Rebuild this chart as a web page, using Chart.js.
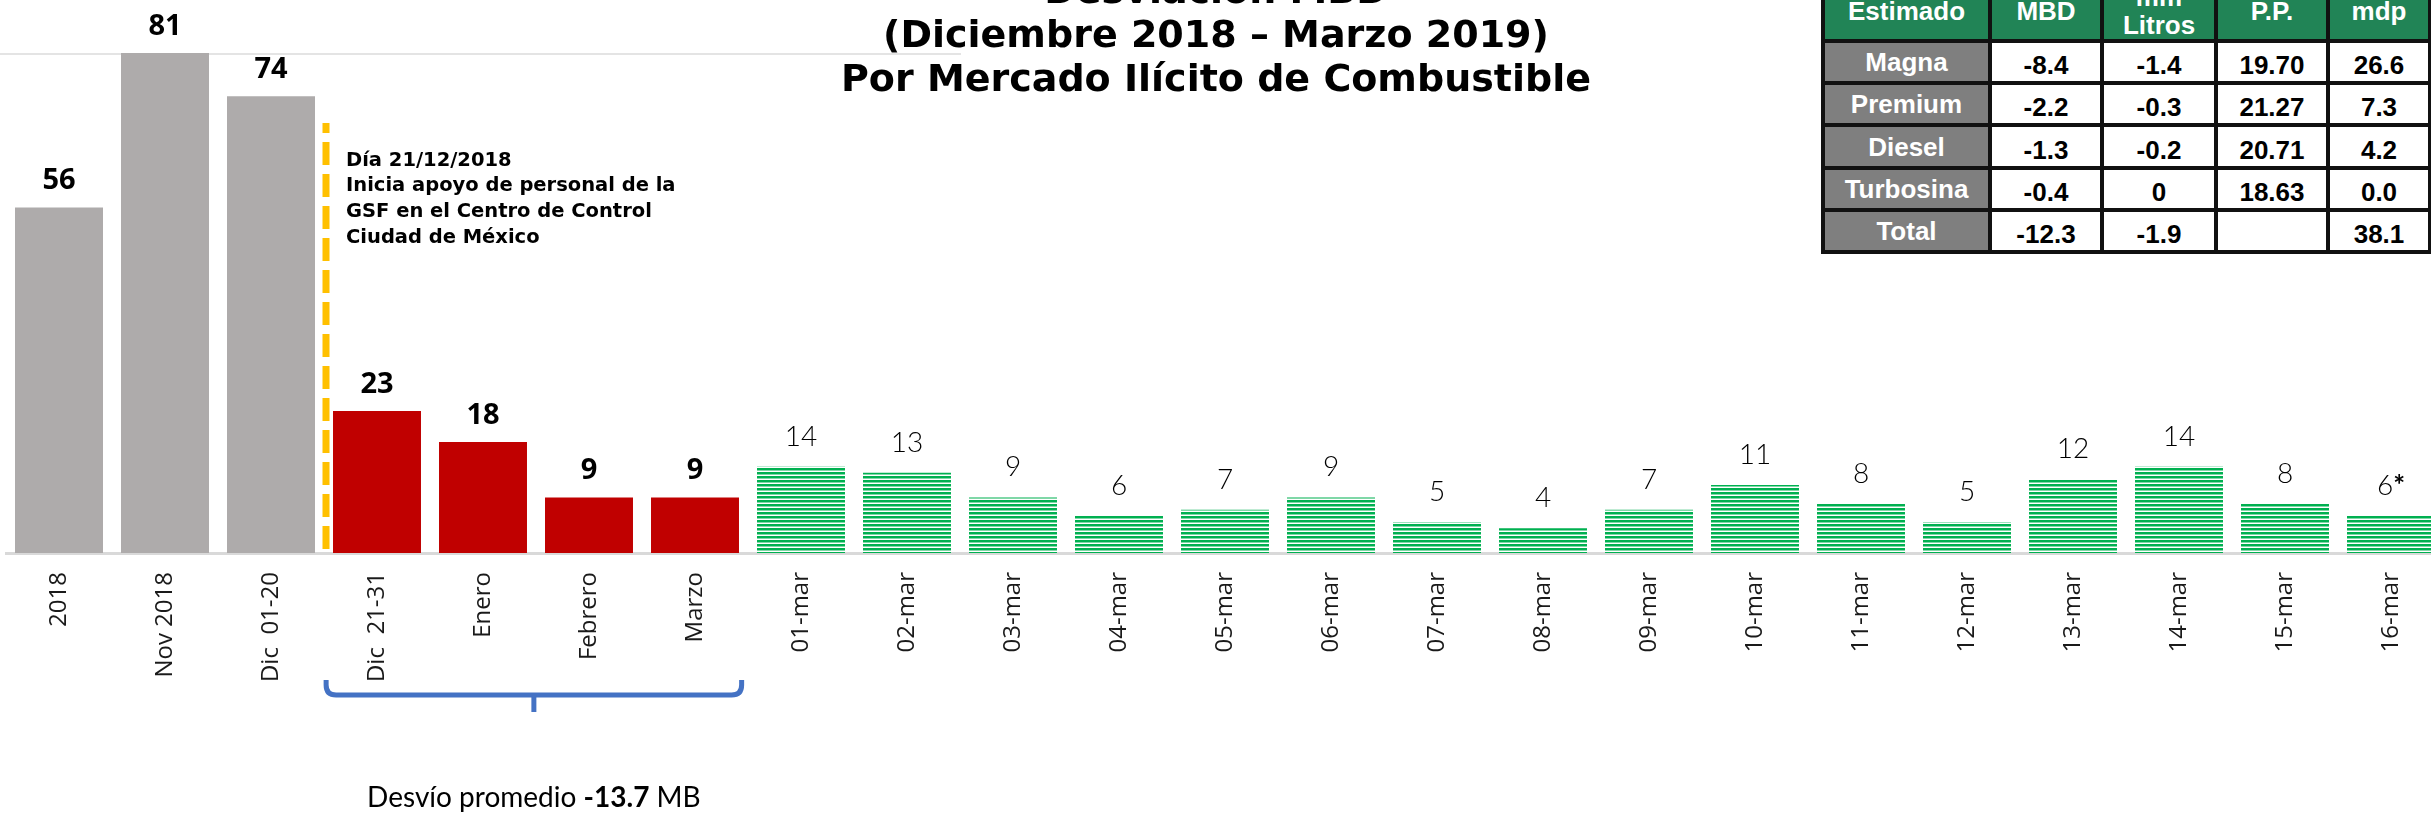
<!DOCTYPE html>
<html lang="es">
<head>
<meta charset="utf-8">
<title>Desviación MBD</title>
<script src="https://cdn.jsdelivr.net/npm/chart.js@4.4.1/dist/chart.umd.min.js"></script>
<style>
    html, body { margin: 0; padding: 0; background: #fff; overflow: hidden; }
    #wrap { position: relative; width: 2431px; height: 813px; overflow: hidden; }
    #chartBox { position: absolute; left: 0; top: 0; width: 2460px; height: 813px; }
    #tabla {
        position: absolute; left: 1821px; top: -21px;
        display: grid; background: #111; padding: 4px; gap: 4px;
        grid-template-columns: 163px 108px 110px 108px 98px;
        grid-template-rows: 56px 38px 38px 39px 38px 38px;
        font-family: 'Liberation Sans', Arial, sans-serif; font-weight: bold; font-size: 26px;
    }
    #tabla div {
        display: flex; align-items: center; justify-content: center;
        text-align: center; line-height: 28px; white-space: pre-line;
    }
    #tabla .hdr { background: #218456; color: #fff; }
    #tabla .prod { background: #7f7f7f; color: #fff; }
    #tabla .val { background: #fff; color: #000; padding-top: 6px; box-sizing: border-box; }
</style>
</head>
<body>
<div id="wrap">
    <div id="chartBox"><canvas id="grafica"></canvas></div>
    <div id="tabla"></div>
</div>
<script>
// Periodos previos (gris), promedio mensual (rojo) y diario de marzo (verde)
const categoriasPrevias = ['2018', 'Nov 2018', 'Dic  01-20'];
const valoresPrevios = [56, 81, 74];
const categoriasMeses = ['Dic  21-31', 'Enero', 'Febrero', 'Marzo'];
const valoresMeses = [23, 18, 9, 9];
const categoriasDias = ['01-mar', '02-mar', '03-mar', '04-mar', '05-mar', '06-mar', '07-mar', '08-mar',
    '09-mar', '10-mar', '11-mar', '12-mar', '13-mar', '14-mar', '15-mar', '16-mar'];
const valoresDias = [14, 13, 9, 6, 7, 9, 5, 4, 7, 11, 8, 5, 12, 14, 8, 6];
const notasDias = ['', '', '', '', '', '', '', '', '', '', '', '', '', '', '', '*'];

// Tabla de estimados
const encabezados = ['Estimado', 'MBD', 'mm\nLitros', 'P.P.', 'mdp'];
const productos = ['Magna', 'Premium', 'Diesel', 'Turbosina', 'Total'];
const colMBD = ['-8.4', '-2.2', '-1.3', '-0.4', '-12.3'];
const colLitros = ['-1.4', '-0.3', '-0.2', '0', '-1.9'];
const colPP = ['19.70', '21.27', '20.71', '18.63', ''];
const colMdp = ['26.6', '7.3', '4.2', '0.0', '38.1'];

const titulo = ['Desviación MBD', '(Diciembre 2018 – Marzo 2019)', 'Por Mercado Ilícito de Combustible'];
const nota = ['Día 21/12/2018', 'Inicia apoyo de personal de la', 'GSF en el Centro de Control', 'Ciudad de México'];

const categorias = categoriasPrevias.concat(categoriasMeses, categoriasDias);
const valores = valoresPrevios.concat(valoresMeses, valoresDias);
const nPrev = categoriasPrevias.length;
const nMeses = categoriasMeses.length;

// build table
const tabla = document.getElementById('tabla');
function celda(texto, clase) {
    const d = document.createElement('div');
    d.className = clase;
    d.textContent = texto;
    tabla.appendChild(d);
}
encabezados.forEach(h => celda(h, 'hdr'));
productos.forEach((p, i) => {
    celda(p, 'prod');
    celda(colMBD[i], 'val');
    celda(colLitros[i], 'val');
    celda(colPP[i], 'val');
    celda(colMdp[i], 'val');
});

const canvas = document.getElementById('grafica');
const ctxG = canvas.getContext('2d');

// horizontal green stripes
function rayado() {
    const c = document.createElement('canvas');
    c.width = 4; c.height = 4;
    const g = c.getContext('2d');
    g.fillStyle = '#ffffff';
    g.fillRect(0, 0, 4, 4);
    g.fillStyle = '#00b050';
    g.fillRect(0, 0, 4, 2.5);
    return ctxG.createPattern(c, 'repeat');
}
const patronVerde = rayado();

function colorBarra(i) {
    if (i < nPrev) return '#aeabab';
    if (i < nPrev + nMeses) return '#c00000';
    return patronVerde;
}

const etiquetas = {
    id: 'etiquetas',
    afterDatasetsDraw(chart) {
        const ctx = chart.ctx;
        const meta = chart.getDatasetMeta(0);
        ctx.save();
        ctx.fillStyle = '#000';
        ctx.textBaseline = 'alphabetic';
        meta.data.forEach((bar, i) => {
            const texto = String(valores[i]);
            if (i < nPrev + nMeses) {
                ctx.font = "bold 29px 'Open Sans'";
                ctx.textAlign = 'center';
                ctx.fillText(texto, bar.x, bar.y - 18);
            } else {
                const extra = notasDias[i - nPrev - nMeses];
                ctx.font = "300 28px Lato";
                const w1 = ctx.measureText(texto).width;
                ctx.font = "bold 28px Lato";
                const w2 = extra ? ctx.measureText(extra).width : 0;
                const x0 = bar.x - (w1 + w2) / 2;
                ctx.textAlign = 'left';
                ctx.font = "300 28px Lato";
                ctx.fillText(texto, x0, bar.y - 21);
                if (extra) {
                    ctx.font = "bold 28px Lato";
                    ctx.fillText(extra, x0 + w1, bar.y - 21);
                }
            }
        });
        ctx.restore();
    }
};

const adornos = {
    id: 'adornos',
    beforeDraw(chart) {
        const ctx = chart.ctx;
        ctx.save();
        ctx.strokeStyle = '#e4e4e4';
        ctx.lineWidth = 2;
        ctx.beginPath();
        ctx.moveTo(0, 54);
        ctx.lineTo(961, 54);
        ctx.stroke();
        ctx.restore();
    },
    afterDraw(chart) {
        const ctx = chart.ctx;
        const xs = chart.scales.x;
        const ys = chart.scales.y;
        ctx.save();

        // title
        ctx.fillStyle = '#000';
        ctx.textAlign = 'center';
        ctx.textBaseline = 'alphabetic';
        ctx.font = "bold 38px 'DejaVu Sans'";
        titulo.forEach((t, i) => ctx.fillText(t, 1216, 3 + i * 44));

        // dashed divider between Dic 01-20 and Dic 21-31
        const xDiv = (xs.getPixelForValue(nPrev - 1) + xs.getPixelForValue(nPrev)) / 2 + 2;
        ctx.strokeStyle = '#ffc000';
        ctx.lineWidth = 7;
        ctx.setLineDash([23, 9]);
        ctx.lineDashOffset = 13;
        ctx.beginPath();
        ctx.moveTo(xDiv, 123);
        ctx.lineTo(xDiv, ys.getPixelForValue(0));
        ctx.stroke();
        ctx.setLineDash([]);

        // annotation
        ctx.textAlign = 'left';
        ctx.font = "bold 19.5px 'DejaVu Sans'";
        const base = [166, 191, 217, 243];
        nota.forEach((t, i) => ctx.fillText(t, 346, base[i]));

        // bracket under monthly bars
        const paso = xs.getPixelForValue(1) - xs.getPixelForValue(0);
        const xl = xs.getPixelForValue(nPrev) - paso * 0.48;
        const xr = xs.getPixelForValue(nPrev + nMeses - 1) + paso * 0.44;
        const top = 680, mid = 695, r = 10;
        const cx = (xl + xr) / 2;
        ctx.strokeStyle = '#4472c4';
        ctx.lineWidth = 5;
        ctx.beginPath();
        ctx.moveTo(xl, top);
        ctx.lineTo(xl, mid - r);
        ctx.quadraticCurveTo(xl, mid, xl + r, mid);
        ctx.lineTo(xr - r, mid);
        ctx.quadraticCurveTo(xr, mid, xr, mid - r);
        ctx.lineTo(xr, top);
        ctx.stroke();
        ctx.beginPath();
        ctx.moveTo(cx, mid);
        ctx.lineTo(cx, 712);
        ctx.stroke();

        // average text
        const partes = [['Desvío promedio ', '28px Lato'], ['-13.7', 'bold 28px Lato'], [' MB', '28px Lato']];
        let total = 0;
        partes.forEach(p => { ctx.font = p[1]; total += ctx.measureText(p[0]).width; });
        let x = cx - total / 2;
        ctx.fillStyle = '#000';
        partes.forEach(p => {
            ctx.font = p[1];
            ctx.fillText(p[0], x, 807);
            x += ctx.measureText(p[0]).width;
        });

        ctx.restore();
    }
};

new Chart(ctxG, {
    type: 'bar',
    data: {
        labels: categorias,
        datasets: [{
            data: valores,
            backgroundColor: ctx => colorBarra(ctx.dataIndex),
            borderWidth: 0,
            barPercentage: 0.83,
            categoryPercentage: 1.0
        }]
    },
    options: {
        responsive: true,
        maintainAspectRatio: false,
        animation: false,
        layout: { padding: { left: 6, right: 16, top: 0, bottom: 0 } },
        plugins: {
            legend: { display: false },
            tooltip: { enabled: false }
        },
        scales: {
            x: {
                grid: { display: false, drawTicks: false },
                border: { display: true, color: '#d9d9d9', width: 3 },
                ticks: {
                    autoSkip: false,
                    minRotation: 90,
                    maxRotation: 90,
                    padding: 19,
                    color: '#1a1a1a',
                    font: { family: "'Open Sans'", size: 24 }
                },
                afterFit: scale => { scale.height = 260; }
            },
            y: {
                display: false,
                min: 0,
                max: 89.6
            }
        }
    },
    plugins: [etiquetas, adornos]
});
</script>
</body>
</html>
